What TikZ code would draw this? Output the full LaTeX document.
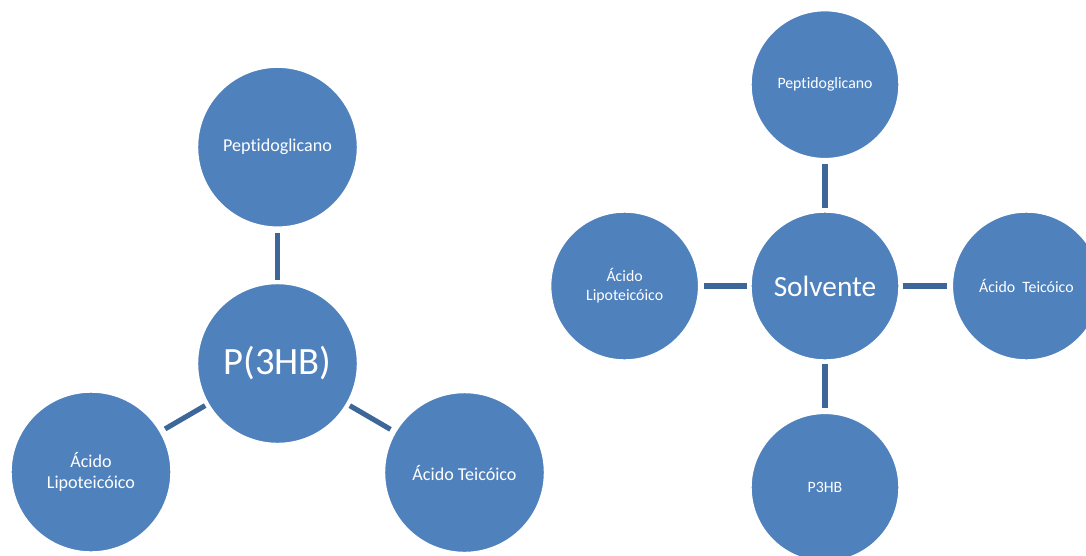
\documentclass[tikz,border=0pt]{standalone}
\usepackage{fontspec}
\setmainfont[Ligatures=NoCommon]{Carlito}
\usetikzlibrary{positioning}

\definecolor{circblue}{HTML}{4F81BD}
\definecolor{linkblue}{HTML}{3D6699}

\begin{document}
\begin{tikzpicture}[
    x=0.02cm, y=-0.02cm,
    bigcirc/.style={circle, fill=circblue, draw=white, line width=0.8pt, text=white, align=center, inner sep=0pt, minimum size=3.2cm, font=\fontsize{10.3}{12.3}\selectfont},
    smallcirc/.style={bigcirc, minimum size=2.96cm, font=\fontsize{9}{11}\selectfont},
    link/.style={draw=linkblue, line width=2.9pt, shorten <=0.1cm, shorten >=0.06cm}
]
\useasboundingbox (0,0) rectangle (1086,555);
\clip (0,0) rectangle (1086,555);

% ============ LEFT: P(3HB) ============
\node[bigcirc, font=\fontsize{22}{26}\selectfont] (hubL) at (277.5,363.5) {P(3HB)};
\node[bigcirc, above=1.1cm of hubL] (pepL) {Peptidoglicano};
\node[bigcirc] (lipoL) at (91,472) {Ácido\\Lipoteicóico};
\node[bigcirc] (teicL) at (464.5,472.5) {Ácido Teicóico};

\draw[link] (pepL) -- (hubL);
\draw[link] (lipoL) -- (hubL);
\draw[link] (teicL) -- (hubL);

% ============ RIGHT: Solvente ============
\node[smallcirc, font=\fontsize{16.7}{20}\selectfont] (hubR) at (825,286) {Solvente};
\node[smallcirc, above=1.04cm of hubR] (pepR) {Peptidoglicano};
\node[smallcirc, left=1.02cm of hubR] (lipoR) {Ácido\\Lipoteicóico};
\node[smallcirc, right=1.04cm of hubR] (teicR) {Ácido\ \ Teicóico};
\node[smallcirc, below=1.04cm of hubR] (phbR) {P3HB};

\draw[link] (pepR) -- (hubR);
\draw[link] (lipoR) -- (hubR);
\draw[link] (teicR) -- (hubR);
\draw[link] (phbR) -- (hubR);

\end{tikzpicture}
\end{document}
